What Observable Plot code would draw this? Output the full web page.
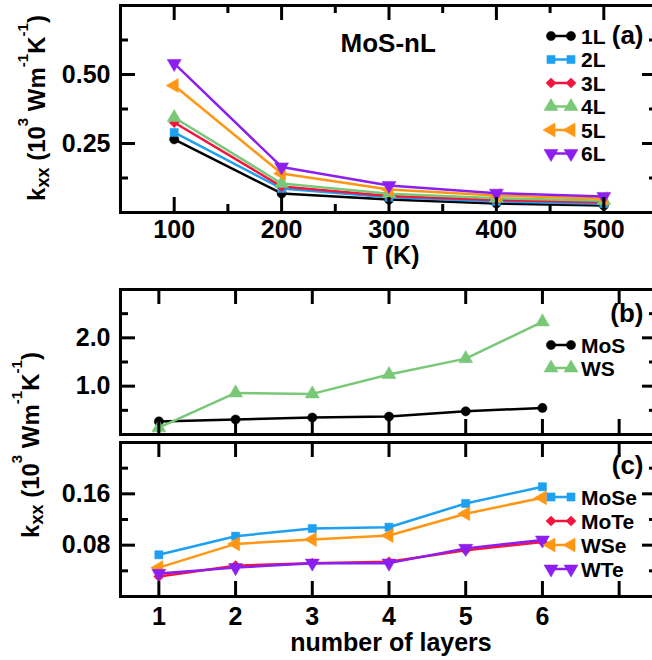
<!DOCTYPE html>
<html><head><meta charset="utf-8">
<script src="https://cdn.jsdelivr.net/npm/d3@7"></script>
<script src="https://cdn.jsdelivr.net/npm/@observablehq/plot@0.6"></script>
<style>
html,body{margin:0;padding:0;background:#fff;overflow:hidden}
#root{position:relative;width:652px;height:660px;overflow:hidden;background:#fff;font-family:"Liberation Sans",Arial,Helvetica,sans-serif;font-weight:bold}
#root > svg{position:absolute;left:0;max-width:none !important;height:auto}
</style></head><body><div id="root"></div><script>
// ---------- data ----------
const temps = [100, 200, 300, 400, 500];
const k1L = [0.265, 0.069, 0.047, 0.033, 0.025];
const k2L = [0.290, 0.087, 0.055, 0.040, 0.032];
const k3L = [0.326, 0.094, 0.060, 0.045, 0.037];
const k4L = [0.344, 0.105, 0.068, 0.052, 0.043];
const k5L = [0.460, 0.141, 0.083, 0.062, 0.050];
const k6L = [0.540, 0.165, 0.098, 0.070, 0.058];

const layers = [1, 2, 3, 4, 5, 6];
const kMoS = [0.27, 0.31, 0.35, 0.37, 0.48, 0.55];
const kWS = [0.14, 0.86, 0.84, 1.24, 1.57, 2.33];
const kMoSe = [0.065, 0.094, 0.106, 0.108, 0.145, 0.171];
const kMoTe = [0.031, 0.048, 0.052, 0.054, 0.072, 0.085];
const kWSe = [0.045, 0.082, 0.089, 0.095, 0.129, 0.154];
const kWTe = [0.036, 0.045, 0.052, 0.052, 0.075, 0.088];

const tTicks = [100, 200, 300, 400, 500];
const tMinor = [150, 250, 350, 450];
const layerTicks = [1, 2, 3, 4, 5, 6, 7];
const aTicks = [0.25, 0.50];
const aMinor = [0.125, 0.375, 0.625];
const bTicks = [1.0, 2.0];
const bMinor = [0.5, 1.5, 2.5];
const cTicks = [0.08, 0.16];
const cMinor = [0.04, 0.12, 0.20];

// ---------- styles ----------
const BLACK = "#000000", BLUE = "#1ea0f0", RED = "#f5143f", GREEN = "#78c878", ORANGE = "#ff9614", PURPLE = "#8c1ef0";
const sty = {
  "1L": {color: BLACK, symbol: "circle", r: 4.6, rotate: 0},
  "2L": {color: BLUE, symbol: "square", r: 4.6, rotate: 0},
  "3L": {color: RED, symbol: "diamond2", r: 4.6, rotate: 0},
  "4L": {color: GREEN, symbol: "triangle", r: 5.2, rotate: 0},
  "5L": {color: ORANGE, symbol: "triangle", r: 5.2, rotate: -90},
  "6L": {color: PURPLE, symbol: "triangle", r: 5.2, rotate: 180},
  "MoS": {color: BLACK, symbol: "circle", r: 4.6, rotate: 0},
  "WS": {color: GREEN, symbol: "triangle", r: 5.2, rotate: 0},
  "MoSe": {color: BLUE, symbol: "square", r: 4.6, rotate: 0},
  "MoTe": {color: RED, symbol: "diamond2", r: 4.6, rotate: 0},
  "WSe": {color: ORANGE, symbol: "triangle", r: 5.2, rotate: -90},
  "WTe": {color: PURPLE, symbol: "triangle", r: 5.2, rotate: 180}
};
const seriesA = [["1L", k1L], ["2L", k2L], ["3L", k3L], ["4L", k4L], ["5L", k5L], ["6L", k6L]];
const seriesB = [["MoS", kMoS], ["WS", kWS]];
const seriesC = [["MoSe", kMoSe], ["MoTe", kMoTe], ["WSe", kWSe], ["WTe", kWTe]];

const FONT = '"Liberation Sans", Arial, Helvetica, sans-serif';
const W = 670, ML = 120, MR = 13, IW = W - ML - MR;
const MAJ = 15, MIN = 8, SW = 3, TICKFS = 25;

function panel(o) {
  const IH = o.height - o.mt - o.mb;
  const marks = [];
  for (const [name, vals] of o.series) {
    const s = sty[name];
    const rows = o.xs.map((x, i) => ({x, y: vals[i]}));
    marks.push(Plot.line(rows, {x: "x", y: "y", stroke: s.color, strokeWidth: 2.5}));
    marks.push(Plot.dot(rows, {x: "x", y: "y", symbol: s.symbol, r: s.r, rotate: s.rotate, fill: s.color, stroke: s.color, strokeWidth: 0.5}));
  }
  const tk = {stroke: "black", strokeWidth: SW};
  const axes = [
    Plot.ruleX(o.xMajor, {...tk, insetTop: IH - MAJ}),
    Plot.ruleX(o.xMajor, {...tk, insetBottom: IH - MAJ}),
    Plot.ruleX(o.xMinor, {...tk, insetTop: IH - MIN}),
    Plot.ruleX(o.xMinor, {...tk, insetBottom: IH - MIN}),
    Plot.ruleY(o.yMajor, {...tk, insetRight: IW - MAJ}),
    Plot.ruleY(o.yMajor, {...tk, insetLeft: IW - MAJ}),
    Plot.ruleY(o.yMinor, {...tk, insetRight: IW - MIN}),
    Plot.ruleY(o.yMinor, {...tk, insetLeft: IW - MIN}),
    Plot.axisY({ticks: o.yMajor, tickFormat: o.yFmt, tickSize: 0, tickPadding: 10, label: null, fontSize: TICKFS, fontWeight: "bold"})
  ];
  if (o.xLabels) axes.push(Plot.axisX({ticks: o.xLabels, tickFormat: d => String(d), tickSize: 0, tickPadding: o.xPad, label: null, fontSize: TICKFS, fontWeight: "bold"}));
  const ann = (o.texts || []).map(t => Plot.text([t.text], {text: d => d, frameAnchor: t.anchor, dx: t.dx, dy: t.dy, textAnchor: t.ta, lineAnchor: "middle", fontSize: t.size, fontWeight: "bold", fill: "black"}));
  const p = Plot.plot({
    width: W, height: o.height,
    marginLeft: ML, marginRight: MR, marginTop: o.mt, marginBottom: o.mb,
    x: {domain: o.xDomain, axis: o.xLabels ? undefined : null},
    y: {domain: o.yDomain},
    style: {fontFamily: FONT, fontWeight: "bold", fontSize: "24px", color: "black", background: "transparent", overflow: "visible", maxWidth: "none"},
    marks: [...marks, ...axes, Plot.frame({stroke: "black", strokeWidth: SW}), ...ann]
  });
  p.style.top = o.top + "px";
  p.style.width = W + "px";
  p.style.height = o.height + "px";
  document.getElementById("root").appendChild(p);
}

panel({
  top: 0, height: 272, mt: 5, mb: 60,
  xs: temps, series: seriesA, xDomain: [50, 550], yDomain: [0, 0.75],
  xMajor: tTicks, xMinor: tMinor, yMajor: aTicks, yMinor: aMinor, yFmt: d3.format(".2f"),
  xLabels: tTicks, xPad: 8,
  texts: [
    {text: "MoS-nL", anchor: "top-left", dx: 220, dy: 38, ta: "start", size: 26},
    {text: "(a)", anchor: "top-right", dx: -14, dy: 30, ta: "end", size: 26},
    {text: "T (K)", anchor: "bottom", dx: 2, dy: 43, ta: "middle", size: 25}
  ]
});
panel({
  top: 280, height: 160, mt: 9, mb: 6,
  xs: layers, series: seriesB, xDomain: [0.5, 7.5], yDomain: [0, 3],
  xMajor: layerTicks, xMinor: [], yMajor: bTicks, yMinor: bMinor, yFmt: d3.format(".1f"),
  xLabels: null,
  texts: [{text: "(b)", anchor: "top-right", dx: -14, dy: 24, ta: "end", size: 26}]
});
panel({
  top: 437, height: 223, mt: 5, mb: 64,
  xs: layers, series: seriesC, xDomain: [0.5, 7.5], yDomain: [0, 0.24],
  xMajor: layerTicks, xMinor: [], yMajor: cTicks, yMinor: cMinor, yFmt: d3.format(".2f"),
  xLabels: layers, xPad: 11,
  texts: [
    {text: "(c)", anchor: "top-right", dx: -14, dy: 23, ta: "end", size: 26},
    {text: "number of layers", anchor: "bottom", dx: 2, dy: 46, ta: "middle", size: 25}
  ]
});

// ---------- overlay: legends and y titles ----------
const ov = d3.select("#root").append("svg").attr("width", 652).attr("height", 660)
  .style("top", "0px").style("pointer-events", "none")
  .attr("font-family", FONT).attr("font-weight", "bold");
const symMap = {circle: d3.symbolCircle, square: d3.symbolSquare, diamond2: d3.symbolDiamond2, triangle: d3.symbolTriangle};
function legend(names, x0, y0, step) {
  names.forEach((n, i) => {
    const s = sty[n], y = y0 + i * step;
    ov.append("line").attr("x1", x0).attr("x2", x0 + 20).attr("y1", y).attr("y2", y).attr("stroke", s.color).attr("stroke-width", 2.5);
    for (const x of [x0, x0 + 20]) {
      ov.append("path").attr("d", d3.symbol(symMap[s.symbol], Math.PI * s.r * s.r)())
        .attr("transform", `translate(${x},${y}) rotate(${s.rotate})`).attr("fill", s.color).attr("stroke", s.color).attr("stroke-width", 0.5);
    }
    ov.append("text").attr("x", x0 + 30).attr("y", y).attr("dy", "0.36em").attr("font-size", 21).attr("fill", "black").text(n);
  });
}
legend(seriesA.map(d => d[0]), 551, 36, 23.5);
legend(seriesB.map(d => d[0]), 551, 345, 23);
legend(seriesC.map(d => d[0]), 551, 497, 24);

function ytitle(x, y) {
  const t = ov.append("text").attr("transform", `translate(${x},${y}) rotate(-90)`).attr("text-anchor", "middle").attr("font-size", 24).attr("fill", "black");
  t.append("tspan").text("k");
  t.append("tspan").attr("font-size", 18).attr("dy", 4).text("xx");
  t.append("tspan").attr("dy", -4).text(" (10");
  t.append("tspan").attr("font-size", 15).attr("dy", -17).text("3");
  t.append("tspan").attr("dy", 17).text(" Wm");
  t.append("tspan").attr("font-size", 15).attr("dy", -17).text("-1");
  t.append("tspan").attr("dy", 17).text("K");
  t.append("tspan").attr("font-size", 15).attr("dy", -17).text("-1");
  t.append("tspan").attr("dy", 17).text(")");
}
ytitle(45, 108);
ytitle(39, 445);
</script></body></html>
